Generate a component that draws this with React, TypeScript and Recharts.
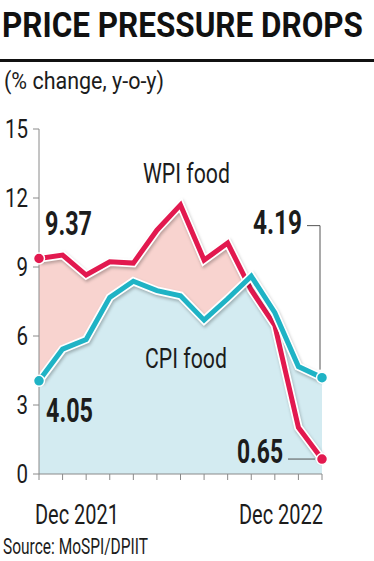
import { ComposedChart, Area, Line, XAxis, YAxis } from "recharts";

const months = [
  "Dec 2021", "Jan 2022", "Feb 2022", "Mar 2022", "Apr 2022", "May 2022", "Jun 2022",
  "Jul 2022", "Aug 2022", "Sep 2022", "Oct 2022", "Nov 2022", "Dec 2022",
];
const wpiFood = [9.37, 9.52, 8.65, 9.23, 9.17, 10.6, 11.7, 9.3, 10.04, 8.0, 6.46, 2.02, 0.65];
const cpiFood = [4.05, 5.43, 5.85, 7.68, 8.38, 7.97, 7.75, 6.69, 7.62, 8.6, 7.01, 4.67, 4.19];
const yTicks = [0, 3, 6, 9, 12, 15];
const xLabels = ["Dec 2021", "Dec 2022"];

const data = months.map((m, i) => ({ month: m, wpi: wpiFood[i], cpi: cpiFood[i] }));

const RED = "#e2194f";
const TEAL = "#1fb3c5";
const PINK = "#f8d3cf";
const BLUE = "#d3ebf1";
const AXIS = "#8a8a8a";
const INK = "#1c1c1c";
const FONT = "Roboto, 'Open Sans', sans-serif";
const last = months.length - 1;

const YTick = (props: any) => {
  const { x, y, payload } = props;
  return (
    <text
      transform={`translate(${x},${y + 9}) scale(0.82,1)`}
      textAnchor="end"
      fontFamily={FONT}
      fontSize={25}
      fill={INK}
    >
      {payload.value}
    </text>
  );
};

const XTick = (props: any) => {
  const { x, y, payload, index } = props;
  if (!xLabels.includes(payload.value)) return <g />;
  const first = index === 0;
  return (
    <text
      x={first ? x - 4 : x + 1}
      y={y + 42}
      textAnchor={first ? "start" : "end"}
      textLength={84}
      lengthAdjust="spacingAndGlyphs"
      fontFamily={FONT}
      fontSize={28}
      fill={INK}
    >
      {payload.value}
    </text>
  );
};

const bold = {
  fontFamily: FONT,
  fontWeight: 700,
  fontSize: 33,
  fill: INK,
};

const WpiDot = (props: any) => {
  const { cx, cy, index } = props;
  if (index === 0) {
    return (
      <g key="w0">
        <circle cx={cx} cy={cy} r={5.5} fill={RED} stroke="#fff" strokeWidth={1.5} />
        <text x={cx + 6} y={cy - 23} textLength={47} lengthAdjust="spacingAndGlyphs" {...bold}>
          {wpiFood[0].toFixed(2)}
        </text>
      </g>
    );
  }
  if (index === last) {
    return (
      <g key="wl">
        <line x1={cx - 34} x2={cx - 7} y1={cy} y2={cy} stroke="#555" strokeWidth={1} />
        <circle cx={cx} cy={cy} r={5.5} fill={RED} stroke="#fff" strokeWidth={1.5} />
        <text x={cx - 39} y={cy + 4} textAnchor="end" textLength={46} lengthAdjust="spacingAndGlyphs" {...bold}>
          {wpiFood[last].toFixed(2)}
        </text>
      </g>
    );
  }
  return <g key={`w${index}`} />;
};

const CpiDot = (props: any) => {
  const { cx, cy, index } = props;
  if (index === 0) {
    return (
      <g key="c0">
        <circle cx={cx} cy={cy} r={5.5} fill={TEAL} stroke="#fff" strokeWidth={1.5} />
        <text x={cx + 7} y={cy + 41} textLength={47} lengthAdjust="spacingAndGlyphs" {...bold}>
          {cpiFood[0].toFixed(2)}
        </text>
      </g>
    );
  }
  if (index === last) {
    const ly = cy - 152;
    return (
      <g key="cl">
        <polyline
          points={`${cx - 15},${ly} ${cx - 2},${ly} ${cx - 2},${cy - 8}`}
          fill="none"
          stroke="#555"
          strokeWidth={1}
        />
        <circle cx={cx} cy={cy} r={5.5} fill={TEAL} stroke="#fff" strokeWidth={1.5} />
        <text x={cx - 20} y={ly + 8} textAnchor="end" textLength={49} lengthAdjust="spacingAndGlyphs" {...bold}>
          {cpiFood[last].toFixed(2)}
        </text>
      </g>
    );
  }
  return <g key={`c${index}`} />;
};

export default function App() {
  return (
    <div style={{ position: "absolute", left: 0, top: 0, width: 374, height: 561, background: "#fff" }}>
      <ComposedChart
        width={374}
        height={561}
        data={data}
        margin={{ top: 129, right: 52, bottom: 57, left: 0 }}
      >
        <XAxis
          dataKey="month"
          scale="point"
          height={30}
          interval={0}
          tick={<XTick />}
          tickSize={6}
          axisLine={{ stroke: AXIS }}
          tickLine={{ stroke: AXIS }}
        />
        <YAxis
          domain={[0, 15]}
          ticks={yTicks}
          width={39}
          tick={<YTick />}
          tickSize={6}
          tickMargin={5}
          axisLine={{ stroke: AXIS }}
          tickLine={{ stroke: AXIS }}
        />
        <Area dataKey="wpi" type="linear" fill={PINK} fillOpacity={1} stroke="none" isAnimationActive={false} />
        <Area dataKey="cpi" type="linear" fill={BLUE} fillOpacity={1} stroke="none" isAnimationActive={false} />
        <Line dataKey="wpi" type="linear" stroke="#fff" strokeWidth={8.5} dot={false} isAnimationActive={false}
          style={{ filter: "drop-shadow(1px 2px 1.5px rgba(0,0,0,0.25))" }} />
        <Line dataKey="wpi" type="linear" stroke={RED} strokeWidth={5} strokeLinejoin="miter" dot={<WpiDot />} activeDot={false} isAnimationActive={false} />
        <Line dataKey="cpi" type="linear" stroke="#fff" strokeWidth={8.5} dot={false} isAnimationActive={false}
          style={{ filter: "drop-shadow(1px 2px 1.5px rgba(0,0,0,0.25))" }} />
        <Line dataKey="cpi" type="linear" stroke={TEAL} strokeWidth={5} strokeLinejoin="miter" dot={<CpiDot />} activeDot={false} isAnimationActive={false} />
      </ComposedChart>
      <svg width={374} height={561} style={{ position: "absolute", left: 0, top: 0, pointerEvents: "none" }}>
        <text
          transform="translate(2,37) scale(1,1.14)"
          textLength={361}
          lengthAdjust="spacingAndGlyphs"
          fontFamily={FONT}
          fontWeight={700}
          fontSize={30}
          fill="#111"
        >
          PRICE PRESSURE DROPS
        </text>
        <rect x={0} y={59} width={374} height={3} fill="#111" />
        <text x={4} y={89} textLength={160} lengthAdjust="spacingAndGlyphs" fontFamily={FONT} fontSize={24} fill={INK}>
          (% change, y-o-y)
        </text>
        <text x={143} y={183} textLength={87} lengthAdjust="spacingAndGlyphs" fontFamily={FONT} fontSize={28} fill={INK}>
          WPI food
        </text>
        <text x={145} y={368} textLength={82} lengthAdjust="spacingAndGlyphs" fontFamily={FONT} fontSize={28} fill={INK}>
          CPI food
        </text>
        <text x={3} y={554} textLength={145} lengthAdjust="spacingAndGlyphs" fontFamily={FONT} fontSize={22} fill={INK}>
          Source: MoSPI/DPIIT
        </text>
      </svg>
    </div>
  );
}
